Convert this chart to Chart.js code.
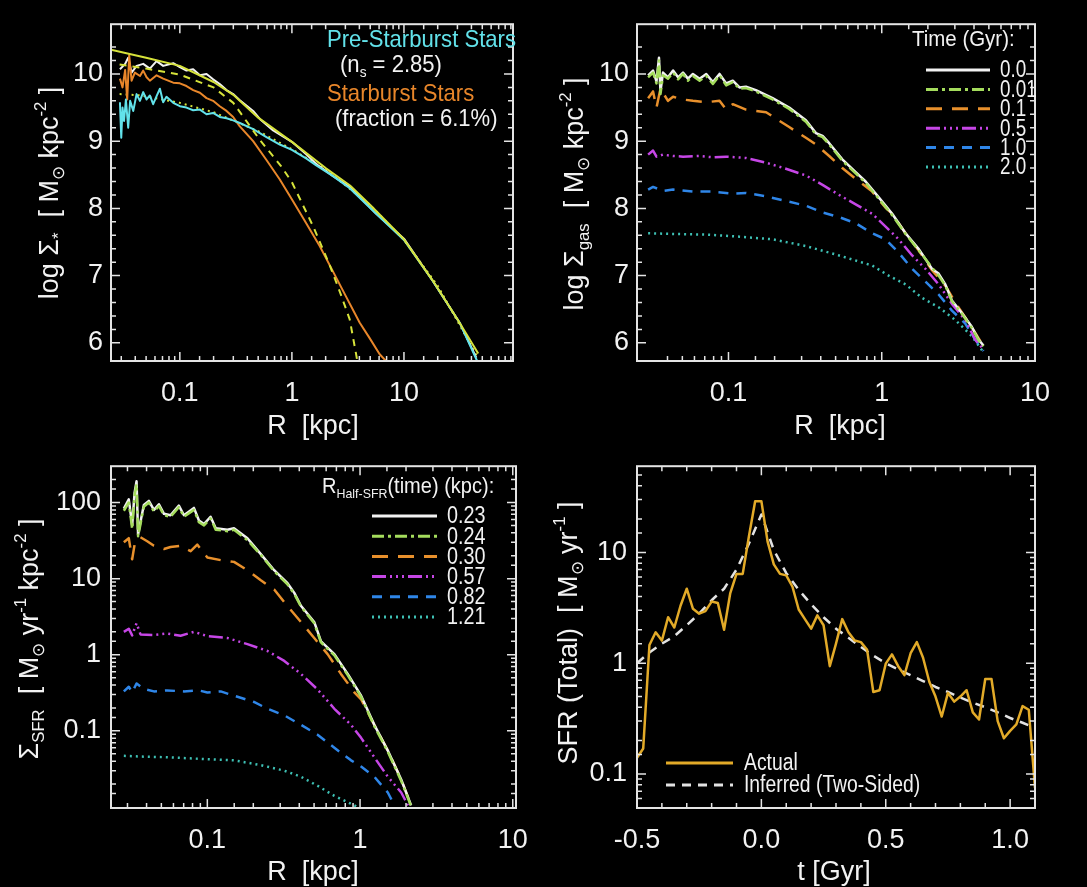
<!DOCTYPE html>
<html lang="en">
<head>
<meta charset="UTF-8">
<title>Starburst profiles</title>
<script src="https://cdn.jsdelivr.net/npm/chart.js"></script>
<style>
  html, body { margin: 0; padding: 0; background: #000; }
  body { width: 1087px; height: 887px; position: relative; overflow: hidden; }
  canvas { position: absolute; }
</style>
</head>
<body>
<canvas id="stars" width="543" height="440" style="left:0;top:0"></canvas>
<canvas id="gas" width="544" height="440" style="left:543px;top:0"></canvas>
<canvas id="sfr" width="543" height="447" style="left:0;top:440px"></canvas>
<canvas id="hist" width="544" height="447" style="left:543px;top:440px"></canvas>
<script>
// ---- top left: stellar surface density (log Msun/kpc^2) vs R (kpc)
const rTotal = [0.0292, 0.0325, 0.0346, 0.0371, 0.0411, 0.0471, 0.054, 0.062, 0.071, 0.0873, 0.1, 0.1146, 0.1315, 0.151, 0.173, 0.198, 0.227, 0.261, 0.299, 0.343, 0.451, 0.517, 0.68, 1, 1.35, 1.65, 2.33, 3.28, 5.66, 10, 18.1, 31.4, 44.2];
const sigTotal = [10.07, 10.15, 10.24, 10.02, 10.12, 10.15, 10.08, 10.19, 10.12, 10.16, 10.10, 10.05, 10.07, 9.98, 10.0, 9.92, 9.85, 9.76, 9.70, 9.61, 9.45, 9.33, 9.16, 8.99, 8.80, 8.66, 8.48, 8.32, 7.92, 7.55, 6.92, 6.3, 5.78];
const rPre = [0.0292, 0.0300, 0.0308, 0.0318, 0.0330, 0.0346, 0.0360, 0.0384, 0.0411, 0.044, 0.0471, 0.0505, 0.054, 0.0578, 0.062, 0.0664, 0.071, 0.076, 0.0873, 0.1, 0.1146, 0.1315, 0.151, 0.173, 0.198, 0.227, 0.261, 0.299, 0.343, 0.451, 0.593, 0.78, 1, 1.35, 1.65, 2.33, 3.28, 5.66, 10, 18.1, 31.4, 45];
const sigPre = [9.58, 9.05, 9.5, 9.3, 9.62, 9.2, 9.6, 9.45, 9.7, 9.6, 9.73, 9.62, 9.68, 9.55, 9.67, 9.78, 9.58, 9.66, 9.57, 9.52, 9.5, 9.46, 9.47, 9.40, 9.42, 9.36, 9.34, 9.31, 9.27, 9.18, 9.06, 8.95, 8.87, 8.74, 8.64, 8.48, 8.3, 7.92, 7.53, 6.92, 6.3, 5.73];
const rBurst = [0.0292, 0.0308, 0.0325, 0.0339, 0.0353, 0.0371, 0.0397, 0.0441, 0.0471, 0.0505, 0.054, 0.062, 0.071, 0.0873, 0.1, 0.1146, 0.1315, 0.151, 0.173, 0.198, 0.227, 0.261, 0.299, 0.343, 0.451, 0.593, 0.78, 1.03, 1.35, 1.77, 2.33, 3.06, 4.03, 4.94, 6.07, 7.2];
const sigBurst = [9.93, 9.8, 10.06, 9.62, 10.28, 9.9, 10.02, 9.97, 10.05, 9.95, 9.9, 9.98, 9.93, 9.87, 9.86, 9.82, 9.76, 9.72, 9.64, 9.6, 9.52, 9.45, 9.36, 9.22, 9.0, 8.72, 8.43, 8.1, 7.77, 7.44, 7.06, 6.68, 6.3, 6.07, 5.83, 5.7];
const rFitTotal = [0.0243, 0.05, 0.1, 0.2, 0.3, 0.5, 1, 2, 3.3, 5, 10, 18, 30, 46];
const fitTotal = [10.36, 10.24, 10.12, 9.88, 9.69, 9.35, 8.99, 8.6, 8.34, 8.05, 7.54, 6.93, 6.35, 5.84];
const rFitBurst = [0.029, 0.05, 0.1, 0.2, 0.3, 0.517, 0.8, 1, 1.55, 2.17, 2.72, 3.28, 3.77, 4.0];
const fitBurst = [10.14, 10.08, 9.99, 9.8, 9.57, 9.02, 8.63, 8.39, 7.73, 7.16, 6.73, 6.35, 5.8, 5.55];
const rFitPre = [0.029, 0.045, 0.1, 0.2, 0.5, 1, 2, 5, 10, 20, 45];
const fitPre = [9.70, 9.68, 9.57, 9.43, 9.15, 8.88, 8.58, 8.05, 7.53, 6.85, 5.8];

// ---- top right: gas surface density at several times
const gasTimes = ['0.0', '0.01', '0.1', '0.5', '1.0', '2.0'];
const rGasA = [0.0299, 0.0322, 0.0339, 0.0352, 0.0360, 0.0374, 0.0403, 0.0435, 0.0469, 0.0505, 0.0544, 0.0586, 0.0648, 0.0716, 0.0791, 0.0874, 0.0966, 0.1067, 0.118, 0.130, 0.151, 0.194, 0.249, 0.320, 0.372, 0.411, 0.454, 0.553, 0.676, 0.785, 0.959, 1.17, 1.43, 1.75, 2.13, 2.35, 2.60, 2.87, 3.34, 3.87, 4.28, 4.61];
const gas00 = [9.98, 10.05, 9.89, 10.24, 9.74, 10.02, 9.95, 10.05, 9.95, 10.02, 9.93, 10.0, 9.93, 10.0, 9.88, 10.0, 9.86, 9.9, 9.8, 9.81, 9.76, 9.64, 9.5, 9.31, 9.12, 9.08, 8.97, 8.73, 8.54, 8.4, 8.16, 7.92, 7.63, 7.39, 7.1, 7.03, 6.87, 6.63, 6.44, 6.24, 6.05, 5.96];
const gas001 = [9.95, 10.02, 9.86, 10.2, 9.7, 9.98, 9.93, 10.02, 9.92, 10.0, 9.9, 9.97, 9.9, 9.97, 9.85, 9.98, 9.83, 9.88, 9.78, 9.79, 9.74, 9.62, 9.48, 9.29, 9.1, 9.06, 8.95, 8.71, 8.52, 8.38, 8.14, 7.9, 7.62, 7.37, 7.12, 7.0, 6.85, 6.62, 6.43, 6.22, 6.04, 5.95];
const rGasB = [0.0299, 0.0322, 0.0339, 0.0360, 0.0403, 0.0435, 0.0505, 0.0586, 0.0716, 0.0874, 0.0966, 0.1067, 0.130, 0.176, 0.249, 0.320, 0.372, 0.454, 0.553, 0.676, 0.867, 1.06, 1.17, 1.43, 1.75, 2.13, 2.60, 3.02, 3.50, 4.07, 4.61];
const gas01 = [9.64, 9.74, 9.5, 9.78, 9.6, 9.66, 9.62, 9.6, 9.58, 9.6, 9.47, 9.55, 9.47, 9.43, 9.21, 9.05, 8.95, 8.78, 8.6, 8.44, 8.25, 8.01, 7.92, 7.63, 7.37, 7.08, 6.85, 6.6, 6.38, 6.15, 5.95];
const rGasC = [0.0299, 0.0322, 0.0339, 0.0374, 0.0435, 0.0505, 0.0648, 0.0791, 0.0966, 0.130, 0.176, 0.237, 0.320, 0.411, 0.527, 0.676, 0.867, 1.06, 1.29, 1.58, 1.93, 2.35, 2.87, 3.50, 4.07, 4.61];
const gas05 = [8.8, 8.86, 8.77, 8.8, 8.78, 8.77, 8.78, 8.76, 8.77, 8.75, 8.68, 8.59, 8.49, 8.35, 8.2, 8.06, 7.92, 7.73, 7.54, 7.3, 7.1, 6.87, 6.58, 6.34, 6.05, 5.9];
const rGasD = [0.0299, 0.0322, 0.0374, 0.0435, 0.0586, 0.0791, 0.1067, 0.130, 0.176, 0.237, 0.320, 0.411, 0.527, 0.676, 0.867, 1.06, 1.29, 1.58, 1.93, 2.35, 2.87, 3.50, 4.07, 4.61];
const gas10 = [8.28, 8.32, 8.26, 8.28, 8.25, 8.25, 8.22, 8.23, 8.18, 8.11, 8.04, 7.94, 7.87, 7.78, 7.63, 7.54, 7.34, 7.1, 6.91, 6.72, 6.48, 6.29, 6.05, 5.88];
const rGasE = [0.0299, 0.0435, 0.0716, 0.118, 0.194, 0.320, 0.527, 0.867, 1.11, 1.43, 1.83, 2.35, 3.02, 3.87, 4.61];
const gas20 = [7.63, 7.62, 7.61, 7.58, 7.54, 7.44, 7.3, 7.15, 7.0, 6.87, 6.67, 6.53, 6.34, 6.1, 5.86];

// ---- bottom left: SFR surface density, legend = half-SFR radius
const halfRadii = ['0.23', '0.24', '0.30', '0.57', '0.82', '1.21'];
const rSfrA = [0.0284, 0.0306, 0.0322, 0.0334, 0.0344, 0.0352, 0.0365, 0.0384, 0.0414, 0.0447, 0.0482, 0.052, 0.0574, 0.0651, 0.0703, 0.0817, 0.0881, 0.0951, 0.105, 0.1135, 0.1353, 0.1495, 0.183, 0.224, 0.274, 0.335, 0.371, 0.41, 0.501, 0.555, 0.679, 0.83, 1.016, 1.24, 1.52, 1.86, 2.16];
const sfr023 = [83, 110, 50, 135, 190, 38, 56, 93, 105, 80, 95, 71, 68, 91, 68, 85, 58, 52, 65, 46, 44, 46, 34, 21, 12.9, 8.7, 6.5, 4.4, 2.7, 1.5, 1.02, 0.56, 0.29, 0.12, 0.055, 0.023, 0.0105];
const sfr024 = [78, 100, 45, 125, 175, 36, 52, 88, 100, 76, 90, 68, 65, 87, 65, 80, 55, 50, 62, 44, 42, 44, 32, 20.5, 12.5, 8.4, 6.3, 4.3, 2.6, 1.45, 0.98, 0.54, 0.28, 0.115, 0.053, 0.022, 0.0102];
const rSfrB = [0.0284, 0.0306, 0.0322, 0.0334, 0.0365, 0.0404, 0.0447, 0.052, 0.0574, 0.0668, 0.0778, 0.0859, 0.1, 0.1224, 0.1495, 0.183, 0.224, 0.274, 0.319, 0.41, 0.501, 0.613, 0.75, 0.918, 1.016, 1.24, 1.52, 1.86, 2.16];
const sfr030 = [30, 34, 18, 28, 35, 31, 27, 24.5, 26, 27, 23, 28, 19, 17.5, 16.6, 12.9, 9.5, 7.2, 4.9, 2.7, 1.66, 1.02, 0.56, 0.32, 0.26, 0.12, 0.055, 0.023, 0.0105];
const rSfrC = [0.0284, 0.0306, 0.0322, 0.0344, 0.0365, 0.0447, 0.0546, 0.0668, 0.0817, 0.1, 0.1353, 0.183, 0.248, 0.319, 0.41, 0.527, 0.679, 0.873, 1.016, 1.24, 1.52, 1.86, 2.06];
const sfr057 = [2.0, 2.2, 1.8, 2.6, 1.85, 1.82, 1.9, 1.78, 2.0, 1.76, 1.66, 1.38, 1.12, 0.83, 0.56, 0.35, 0.195, 0.12, 0.081, 0.045, 0.025, 0.0155, 0.0105];
const rSfrD = [0.0284, 0.0306, 0.0322, 0.0344, 0.0384, 0.0447, 0.0546, 0.0703, 0.0881, 0.1, 0.1224, 0.1495, 0.202, 0.248, 0.319, 0.41, 0.527, 0.679, 0.873, 1.016, 1.24, 1.52, 1.68];
const sfr082 = [0.33, 0.38, 0.32, 0.42, 0.355, 0.33, 0.34, 0.33, 0.34, 0.32, 0.33, 0.29, 0.24, 0.195, 0.16, 0.12, 0.089, 0.06, 0.041, 0.034, 0.025, 0.0155, 0.0105];
const rSfrE = [0.0284, 0.0365, 0.0546, 0.0881, 0.1495, 0.224, 0.319, 0.41, 0.527, 0.679, 0.918, 1.0];
const sfr121 = [0.047, 0.046, 0.045, 0.043, 0.041, 0.0355, 0.030, 0.025, 0.019, 0.014, 0.0105, 0.0095];

// ---- bottom right: total SFR history (Msun/yr) vs t (Gyr)
const tActual = [-0.5, -0.475, -0.45, -0.425, -0.4, -0.375, -0.35, -0.325, -0.3, -0.275, -0.25, -0.225, -0.2, -0.175, -0.15, -0.125, -0.1, -0.075, -0.05, -0.025, 0, 0.025, 0.05, 0.075, 0.1, 0.125, 0.15, 0.175, 0.2, 0.225, 0.25, 0.275, 0.3, 0.325, 0.35, 0.375, 0.4, 0.425, 0.45, 0.475, 0.5, 0.525, 0.55, 0.575, 0.6, 0.625, 0.65, 0.675, 0.7, 0.725, 0.75, 0.775, 0.8, 0.825, 0.85, 0.875, 0.9, 0.925, 0.95, 0.975, 1.0, 1.025, 1.05, 1.075, 1.1];
const sfrActual = [0.14, 0.17, 1.46, 1.9, 1.6, 2.6, 2.1, 3.3, 4.7, 3.1, 2.8, 2.95, 3.6, 3.5, 2.0, 4.3, 6.4, 6.4, 14, 29, 29, 12.5, 7.8, 6.4, 6.2, 4.9, 3.05, 2.5, 2.05, 2.7, 2.2, 0.94, 1.5, 2.5, 1.9, 1.6, 1.55, 1.32, 0.55, 0.57, 0.99, 1.2, 0.94, 0.78, 1.23, 1.55, 1.12, 0.68, 0.5, 0.33, 0.54, 0.45, 0.5, 0.57, 0.36, 0.31, 0.72, 0.72, 0.30, 0.21, 0.245, 0.28, 0.41, 0.38, 0.075];
const tInferred = [-0.5, -0.45, -0.4, -0.35, -0.3, -0.25, -0.2, -0.15, -0.1, -0.05, 0, 0.05, 0.1, 0.15, 0.2, 0.25, 0.3, 0.35, 0.4, 0.45, 0.5, 0.55, 0.6, 0.65, 0.7, 0.75, 0.8, 0.85, 0.9, 0.95, 1.0, 1.05, 1.1];
const sfrInferred = [1.0, 1.25, 1.5, 1.75, 2.2, 2.8, 3.7, 4.7, 7.0, 12.0, 22, 10.5, 6.5, 4.6, 3.4, 2.6, 2.05, 1.7, 1.4, 1.17, 1.0, 0.88, 0.78, 0.69, 0.61, 0.55, 0.49, 0.44, 0.40, 0.36, 0.32, 0.29, 0.26];

const FONT = "'Liberation Sans', Arial, sans-serif";
const INK = '#f2f2f2';

const pts = (xs, ys) => xs.map((x, i) => ({ x: x, y: ys[i] }));

function line(label, xs, ys, color, dash, width) {
  return { label: label, data: pts(xs, ys), borderColor: color, borderDash: dash || [],
           borderWidth: width || 2, pointRadius: 0, fill: false };
}

// text with sub/superscripts, drawn on the canvas; sx narrows the glyphs
function drawRich(ctx, it) {
  const size = it.size || 27;
  const sx = it.sx || 1;
  const segs = it.parts.map(p => {
    const kind = p[1] || '';
    const fs = kind ? size * 0.62 : size;
    ctx.font = fs + 'px ' + FONT;
    return { text: p[0], kind: kind, fs: fs, w: ctx.measureText(p[0]).width };
  });
  const total = segs.reduce((s, g) => s + g.w, 0);
  ctx.save();
  ctx.translate(it.x, it.y);
  if (it.rot) ctx.rotate(it.rot);
  ctx.scale(sx, 1);
  ctx.textBaseline = 'alphabetic';
  ctx.textAlign = 'left';
  ctx.fillStyle = it.color || INK;
  let x = it.align === 'left' ? 0 : -total / 2;
  const base = size * 0.36;
  segs.forEach(g => {
    ctx.font = g.fs + 'px ' + FONT;
    const dy = g.kind === 'sub' ? size * 0.24 : g.kind === 'sup' ? -size * 0.42 : 0;
    ctx.fillText(g.text, x, base + dy);
    x += g.w;
  });
  ctx.restore();
}

const richText = {
  id: 'richText',
  afterDraw(chart, args, opts) {
    (opts.items || []).forEach(it => drawRich(chart.ctx, it));
  }
};

// box round the plot with IDL-style inward ticks on all four sides
const frame = {
  id: 'frame',
  afterDatasetsDraw(chart) {
    const ctx = chart.ctx, a = chart.chartArea;
    const xs = chart.scales.x, ys = chart.scales.y;
    ctx.save();
    ctx.strokeStyle = '#e4e4e4';
    ctx.lineWidth = 1.5;
    ctx.beginPath();
    xs.ticks.forEach(t => {
      const p = xs.getPixelForValue(t.value);
      if (p <= a.left + 1 || p >= a.right - 1) return;
      const L = t.label ? 9 : 5;
      ctx.moveTo(p, a.bottom); ctx.lineTo(p, a.bottom - L);
      ctx.moveTo(p, a.top); ctx.lineTo(p, a.top + L);
    });
    ys.ticks.forEach(t => {
      const p = ys.getPixelForValue(t.value);
      if (p <= a.top + 1 || p >= a.bottom - 1) return;
      const L = t.label ? 9 : 5;
      ctx.moveTo(a.left, p); ctx.lineTo(a.left + L, p);
      ctx.moveTo(a.right, p); ctx.lineTo(a.right - L, p);
    });
    ctx.stroke();
    ctx.lineWidth = 2;
    ctx.strokeRect(a.left, a.top, a.right - a.left, a.bottom - a.top);
    ctx.restore();
  }
};

// key: line sample followed by the dataset label
const lineKey = {
  id: 'lineKey',
  afterDraw(chart, args, o) {
    if (!o.rows) return;
    const ctx = chart.ctx;
    o.rows.forEach((di, i) => {
      const ds = chart.data.datasets[di];
      const y = o.y + i * o.dy;
      ctx.save();
      ctx.strokeStyle = ds.borderColor;
      ctx.lineWidth = o.lw || 3;
      ctx.setLineDash(ds.borderDash || []);
      ctx.beginPath();
      ctx.moveTo(o.x1, y);
      ctx.lineTo(o.x2, y);
      ctx.stroke();
      ctx.setLineDash([]);
      ctx.translate(o.tx, y + 1);
      ctx.scale(o.sx || 1, 1);
      ctx.font = o.size + 'px ' + FONT;
      ctx.fillStyle = INK;
      ctx.textBaseline = 'middle';
      ctx.fillText(ds.label, 0, 0);
      ctx.restore();
    });
  }
};

const decades = keep => v => {
  const e = Math.log10(v);
  return Math.abs(e - Math.round(e)) < 1e-6 && keep.includes(Math.round(e)) ? String(+v.toPrecision(3)) : '';
};
const integers = v => Math.abs(v - Math.round(v)) < 1e-6 ? String(Math.round(v)) : '';
const halves = v => Math.abs(v * 2 - Math.round(v * 2)) < 1e-6 ? v.toFixed(1) : '';

function axis(a, dir, size) {
  return {
    type: a.type, min: a.min, max: a.max,
    grid: { display: false, drawTicks: false },
    border: { display: false },
    ticks: {
      color: INK, font: { family: FONT, size: 27 }, padding: a.pad,
      autoSkip: false, maxRotation: 0, stepSize: a.step, callback: a.fmt
    },
    afterFit(s) { if (dir === 'x') s.height = size; else s.width = size; }
  };
}

function makeChart(id, datasets, cfg) {
  return new Chart(document.getElementById(id), {
    type: 'line',
    data: { datasets: datasets },
    plugins: [frame, lineKey, richText],
    options: {
      responsive: false, animation: false, devicePixelRatio: 1,
      layout: { padding: { top: cfg.top, right: cfg.right, left: 0, bottom: 0 } },
      elements: { line: { tension: 0, borderJoinStyle: 'round' } },
      plugins: {
        legend: { display: false },
        tooltip: { enabled: false },
        lineKey: cfg.key || {},
        richText: { items: cfg.text }
      },
      scales: { x: axis(cfg.x, 'x', cfg.bottomH), y: axis(cfg.y, 'y', cfg.leftW) }
    }
  });
}

const SUN = ['⊙', 'sub'];

// top left
makeChart('stars', [
  line('fit total', rFitTotal, fitTotal, '#d6e23a', [], 2),
  line('fit burst', rFitBurst, fitBurst, '#d6e23a', [7, 6], 2),
  line('Pre-Starburst Stars', rPre, sigPre, '#62e2ea', [], 2),
  line('Starburst Stars', rBurst, sigBurst, '#e8862a', [], 2),
  line('total', rTotal, sigTotal, '#f2f2f2', [], 2),
  line('fit pre', rFitPre, fitPre, '#d6e23a', [2, 4], 2)
], {
  top: 8, right: 30, leftW: 111, bottomH: 79,
  x: { type: 'logarithmic', min: 0.0243, max: 94, pad: 16, fmt: decades([-1, 0, 1]) },
  y: { type: 'linear', min: 5.73, max: 10.74, step: 0.2, pad: 8, fmt: integers },
  text: [
    { x: 48, y: 193, rot: -Math.PI / 2, parts: [['log Σ'], ['*', 'sub'], ['  [ M'], SUN, [' kpc'], ['-2', 'sup'], [' ]']] },
    { x: 313, y: 424, parts: [['R  [kpc]']] },
    { x: 327, y: 38, size: 24, sx: 0.92, align: 'left', color: '#62e2ea', parts: [['Pre-Starburst Stars']] },
    { x: 340, y: 63, size: 24, sx: 0.92, align: 'left', parts: [['(n'], ['s', 'sub'], [' = 2.85)']] },
    { x: 327, y: 92, size: 24, sx: 0.92, align: 'left', color: '#e8862a', parts: [['Starburst Stars']] },
    { x: 335, y: 117, size: 24, sx: 0.92, align: 'left', parts: [['(fraction = 6.1%)']] }
  ]
});

// top right
makeChart('gas', [
  line(gasTimes[1], rGasA, gas001, '#a4dc5c', [12, 4, 3, 4], 2.5),
  line(gasTimes[0], rGasA, gas00, '#f2f2f2', [], 2.5),
  line(gasTimes[2], rGasB, gas01, '#e8902c', [16, 10], 2.5),
  line(gasTimes[3], rGasC, gas05, '#c646e6', [14, 4, 2, 4, 2, 4, 2, 4], 2.5),
  line(gasTimes[4], rGasD, gas10, '#2f86e8', [10, 8], 2.5),
  line(gasTimes[5], rGasE, gas20, '#3ec0b4', [2, 4], 2.5)
], {
  top: 8, right: 52, leftW: 94, bottomH: 79,
  x: { type: 'logarithmic', min: 0.0253, max: 10, pad: 16, fmt: decades([-1, 0, 1]) },
  y: { type: 'linear', min: 5.73, max: 10.74, step: 0.2, pad: 8, fmt: integers },
  key: { rows: [1, 0, 2, 3, 4, 5], x1: 383, x2: 447, tx: 457, y: 70, dy: 19.4, size: 23, sx: 0.82, lw: 3 },
  text: [
    { x: 30, y: 194, rot: -Math.PI / 2, parts: [['log Σ'], ['gas', 'sub'], ['  [ M'], SUN, [' kpc'], ['-2', 'sup'], [' ]']] },
    { x: 297, y: 424, parts: [['R  [kpc]']] },
    { x: 369, y: 38, size: 22, sx: 0.93, align: 'left', parts: [['Time (Gyr):']] }
  ]
});

// bottom left
makeChart('sfr', [
  line(halfRadii[1], rSfrA, sfr024, '#a4dc5c', [12, 4, 3, 4], 2.5),
  line(halfRadii[0], rSfrA, sfr023, '#f2f2f2', [], 2.5),
  line(halfRadii[2], rSfrB, sfr030, '#e8902c', [16, 10], 2.5),
  line(halfRadii[3], rSfrC, sfr057, '#c646e6', [14, 4, 2, 4, 2, 4, 2, 4], 2.5),
  line(halfRadii[4], rSfrD, sfr082, '#2f86e8', [10, 8], 2.5),
  line(halfRadii[5], rSfrE, sfr121, '#3ec0b4', [2, 4], 2.5)
], {
  top: 16, right: 27, leftW: 111, bottomH: 79,
  x: { type: 'logarithmic', min: 0.0234, max: 10.5, pad: 16, fmt: decades([-1, 0, 1]) },
  y: { type: 'logarithmic', min: 0.0097, max: 300, pad: 10, fmt: decades([-2, -1, 0, 1, 2]) },
  key: { rows: [1, 0, 2, 3, 4, 5], x1: 372, x2: 437, tx: 447, y: 76, dy: 20.2, size: 23, sx: 0.86, lw: 3 },
  text: [
    { x: 28, y: 199, rot: -Math.PI / 2, parts: [['Σ'], ['SFR', 'sub'], ['  [ M'], SUN, [' yr'], ['-1', 'sup'], [' kpc'], ['-2', 'sup'], [' ]']] },
    { x: 313, y: 430, parts: [['R  [kpc]']] },
    { x: 322, y: 45, size: 22, sx: 0.91, align: 'left', parts: [['R'], ['Half-SFR', 'sub'], ['(time) (kpc):']] }
  ]
});

// bottom right
makeChart('hist', [
  line('Actual', tActual, sfrActual, '#e2aa28', [], 2.5),
  line('Inferred (Two-Sided)', tInferred, sfrInferred, '#e2e2e2', [9, 7], 2.5)
], {
  top: 16, right: 52, leftW: 94, bottomH: 79,
  x: { type: 'linear', min: -0.5, max: 1.1, step: 0.1, pad: 16, fmt: halves },
  y: { type: 'logarithmic', min: 0.0493, max: 60, pad: 10, fmt: decades([-1, 0, 1]) },
  key: { rows: [0, 1], x1: 123, x2: 190, tx: 201, y: 323, dy: 22, size: 23, sx: 0.84, lw: 3 },
  text: [
    { x: 24, y: 193, rot: -Math.PI / 2, parts: [['SFR (Total)  [ M'], SUN, [' yr'], ['-1', 'sup'], [' ]']] },
    { x: 291, y: 430, parts: [['t [Gyr]']] }
  ]
});
</script>
</body>
</html>
